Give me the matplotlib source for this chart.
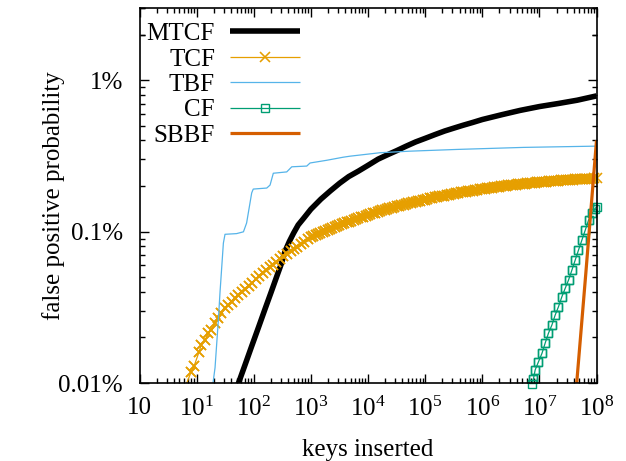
import matplotlib
matplotlib.use("Agg")
import matplotlib.pyplot as plt
import numpy as np
from matplotlib.ticker import FixedLocator, NullFormatter

# false positive probability (%) vs keys inserted
mtcf_keys = [50, 70, 92, 120, 158, 200, 250, 300, 353, 420, 500, 600, 750,
             1000, 1500, 2200, 3200, 4600, 6800, 1e4, 1.5e4, 2.2e4, 3.2e4, 4.6e4,
             6.8e4, 1e5, 1.5e5, 2.2e5, 3.2e5, 4.6e5, 6.8e5, 1e6, 2.2e6, 4.6e6,
             1e7, 2.2e7, 4.6e7, 1e8]
mtcf_fpp = [0.0092, 0.0131, 0.0175, 0.0231, 0.0309, 0.0395, 0.050, 0.0605, 0.0741,
            0.0861, 0.098, 0.1107, 0.1227, 0.1406, 0.164, 0.186, 0.209, 0.231,
            0.251, 0.274, 0.301, 0.322, 0.343, 0.366, 0.391, 0.413, 0.438, 0.462,
            0.483, 0.504, 0.526, 0.550, 0.592, 0.632, 0.670, 0.703, 0.738, 0.788]

tcf_keys = [6, 8, 9, 11, 12, 14, 16, 18, 21, 24, 27, 31, 36, 41, 47, 54, 62, 71,
            82, 94, 108, 124, 143, 165, 190, 218, 250, 290, 330, 380, 440, 500,
            580, 670, 770, 880,
            1000, 1100, 1210, 1330, 1470, 1620, 1780, 1960, 2150, 2370, 2610, 2870,
            3160, 3480, 3830, 4220, 4640, 5110, 5620, 6190, 6810, 7500, 8250, 9090,
            1e4, 1.1e4, 1.21e4, 1.33e4, 1.47e4, 1.62e4, 1.78e4, 1.96e4, 2.15e4,
            2.37e4, 2.61e4, 2.87e4, 3.16e4, 3.48e4, 3.83e4, 4.22e4, 4.64e4, 5.11e4,
            5.62e4, 6.19e4, 6.81e4, 7.5e4, 8.25e4, 9.09e4,
            1e5, 1.1e5, 1.21e5, 1.33e5, 1.47e5, 1.62e5, 1.78e5, 1.96e5, 2.15e5,
            2.37e5, 2.61e5, 2.87e5, 3.16e5, 3.48e5, 3.83e5, 4.22e5, 4.64e5, 5.11e5,
            5.62e5, 6.19e5, 6.81e5, 7.5e5, 8.25e5, 9.09e5,
            1e6, 1.1e6, 1.21e6, 1.33e6, 1.47e6, 1.62e6, 1.78e6, 1.96e6, 2.15e6,
            2.37e6, 2.61e6, 2.87e6, 3.16e6, 3.48e6, 3.83e6, 4.22e6, 4.64e6, 5.11e6,
            5.62e6, 6.19e6, 6.81e6, 7.5e6, 8.25e6, 9.09e6,
            1e7, 1.1e7, 1.21e7, 1.33e7, 1.47e7, 1.62e7, 1.78e7, 1.96e7, 2.15e7,
            2.37e7, 2.61e7, 2.87e7, 3.16e7, 3.48e7, 3.83e7, 4.22e7, 4.64e7, 5.11e7,
            5.62e7, 6.19e7, 6.81e7, 7.5e7, 8.25e7, 9.09e7,
            1e8]
tcf_fpp = [0.0090, 0.0118, 0.0129, 0.0160, 0.0178, 0.0192, 0.0213, 0.0224, 0.0248,
           0.0267, 0.0288, 0.0311, 0.0327, 0.0344, 0.0362, 0.0380, 0.0400, 0.0420,
           0.0435, 0.0460, 0.0485, 0.0510, 0.0535, 0.0560, 0.0585, 0.0605, 0.0630,
           0.0660, 0.0685, 0.0710, 0.0740, 0.0765, 0.0795, 0.0830, 0.0860, 0.0888,
           0.0916, 0.0931, 0.0946, 0.0962, 0.0977, 0.0992, 0.1007, 0.1023, 0.1038,
           0.1054, 0.1069, 0.1085, 0.1101, 0.1117, 0.1133, 0.1149, 0.1165, 0.1181,
           0.1197, 0.1212, 0.1227, 0.1243, 0.1258, 0.1274,
           0.1289, 0.1305, 0.1320, 0.1335, 0.1350, 0.1365, 0.1379, 0.1394, 0.1409,
           0.1424, 0.1438, 0.1452, 0.1466, 0.1480, 0.1494, 0.1508, 0.1522, 0.1536,
           0.1549, 0.1563, 0.1576, 0.1590, 0.1603, 0.1616,
           0.1629, 0.1642, 0.1655, 0.1668, 0.1681, 0.1694, 0.1706, 0.1719, 0.1731,
           0.1743, 0.1755, 0.1767, 0.1778, 0.1790, 0.1801, 0.1813, 0.1824, 0.1835,
           0.1846, 0.1857, 0.1868, 0.1879, 0.1890, 0.1901,
           0.1911, 0.1922, 0.1932, 0.1942, 0.1952, 0.1962, 0.1971, 0.1981, 0.1990,
           0.2000, 0.2009, 0.2018, 0.2027, 0.2036, 0.2044, 0.2053, 0.2061, 0.2069,
           0.2077, 0.2085, 0.2092, 0.2100, 0.2107, 0.2114,
           0.2121, 0.2128, 0.2134, 0.2141, 0.2147, 0.2153, 0.2159, 0.2165, 0.2171,
           0.2177, 0.2183, 0.2189, 0.2194, 0.2200, 0.2205, 0.2210, 0.2215, 0.2220,
           0.2225, 0.2230, 0.2234, 0.2239, 0.2243, 0.2248,
           0.2252]

tbf_keys = [19, 21, 24, 25.7, 29.4, 31.4, 50, 66, 75, 92, 98, 169, 193, 220, 378,
            463, 847, 968, 1900, 3660, 4860, 16300, 54600, 359000, 5.27e6, 1e8]
tbf_fpp = [0.0095, 0.0126, 0.026, 0.040, 0.084, 0.096, 0.097, 0.0997, 0.114, 0.180,
           0.191, 0.194, 0.203, 0.243, 0.248, 0.268, 0.271, 0.284, 0.296, 0.310,
           0.315, 0.332, 0.340, 0.349, 0.360, 0.367]

cf_keys = [7.39e6, 7.89e6, 8.44e6, 9.64e6, 1.11e7, 1.26e7, 1.44e7, 1.66e7, 1.89e7,
           2.16e7, 2.48e7, 2.83e7, 3.24e7, 3.71e7, 4.24e7, 4.84e7, 5.55e7, 6.34e7,
           7.25e7, 8.30e7, 9.48e7, 1e8]
cf_fpp = [0.0098, 0.0107, 0.0122, 0.0138, 0.0157, 0.0183, 0.0213, 0.0242, 0.0281,
          0.0319, 0.0372, 0.0422, 0.0479, 0.0557, 0.0649, 0.0755, 0.0879, 0.102,
          0.119, 0.132, 0.142, 0.146]

sbbf_keys = [4.4e7, 6.5e7, 1e8]
sbbf_fpp = [0.009, 0.053, 0.40]

x_ticks = [1, 10, 1e2, 1e3, 1e4, 1e5, 1e6, 1e7, 1e8]
x_labels = ["10"] + [r"$\mathregular{10^{%d}}$" % k for k in range(1, 9)]
y_ticks = [0.01, 0.1, 1]
y_labels = ["0.01%", "0.1%", "1%"]

YMIN, YMAX = 0.01, 3

plt.rcParams["font.family"] = ["Liberation Serif", "DejaVu Serif"]
plt.rcParams["font.size"] = 18
plt.rcParams["mathtext.fontset"] = "custom"
plt.rcParams["mathtext.rm"] = "Liberation Serif"

fig = plt.figure(figsize=(6.26, 4.61), dpi=100)
ax = fig.add_axes([139.5 / 626, 1 - 383 / 461, 457 / 626, 375 / 461])


def draw(keys, fpp, label, color, lw, marker=None, ms=0, mew=1.0):
    keys = np.array(keys, dtype=float)
    fpp = np.array(fpp, dtype=float)
    ax.plot(keys, fpp, color=color, lw=lw, marker=marker, ms=ms,
            mfc="none", mew=mew, label=label, solid_capstyle="butt")
    if marker:
        # gnuplot draws whole points that sit inside the range, even at the border
        inside = fpp >= YMIN * 0.97
        ax.plot(keys[inside], fpp[inside], ls="none", color=color, marker=marker,
                ms=ms, mfc="none", mew=mew, clip_on=False, label="_nolegend_")


draw(mtcf_keys, mtcf_fpp, "MTCF", "black", 4.0)
draw(tcf_keys, tcf_fpp, "TCF", "#E69F00", 0.9, "x", 7.3, 1.15)
draw(tbf_keys, tbf_fpp, "TBF", "#56B4E9", 0.9)
draw(cf_keys, cf_fpp, "CF", "#009E73", 0.9, "s", 6)
draw(sbbf_keys, sbbf_fpp, "SBBF", "#D55E00", 2.3)

ax.set_xscale("log")
ax.set_yscale("log")
ax.set_xlim(1, 1e8)
ax.set_ylim(YMIN, YMAX)

ax.xaxis.set_major_locator(FixedLocator(x_ticks))
ax.set_xticklabels(x_labels)
ax.xaxis.set_minor_locator(FixedLocator(
    [m * 10 ** k for k in range(0, 8) for m in range(2, 10)]))
ax.xaxis.set_minor_formatter(NullFormatter())
ax.yaxis.set_major_locator(FixedLocator(y_ticks))
ax.set_yticklabels(y_labels)
ax.yaxis.set_minor_locator(FixedLocator(
    [m * 10.0 ** k for k in range(-2, 1) for m in range(2, 10)] + [2, 3]))
ax.yaxis.set_minor_formatter(NullFormatter())

ax.tick_params(which="both", direction="in", top=True, right=True, width=1.0)
ax.tick_params(which="major", length=6.5)
ax.tick_params(which="minor", length=3.5)
ax.tick_params(axis="x", which="major", pad=10)
ax.tick_params(axis="y", which="major", pad=12)
for s in ax.spines.values():
    s.set_linewidth(1.2)

ax.set_xlabel("keys inserted", labelpad=13)
ax.set_ylabel("false positive probability", labelpad=-5)

ax.legend(loc="upper right", bbox_to_anchor=((302.5 - 139.5) / 457, 0.968),
          frameon=False, markerfirst=False, handlelength=2.8, handletextpad=0.6,
          labelspacing=0.12, borderpad=0.1, borderaxespad=0.0)

fig.savefig("out.png", dpi=100)
